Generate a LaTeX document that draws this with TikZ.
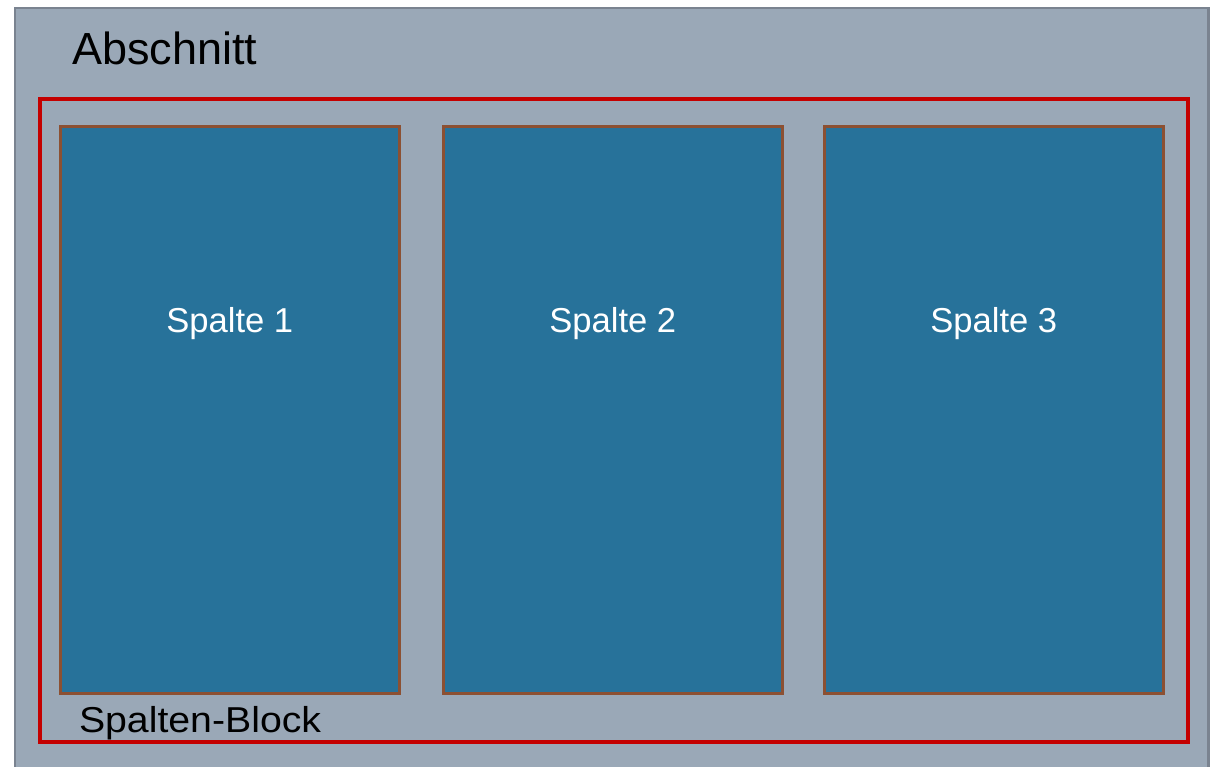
\documentclass[tikz,border=0pt]{standalone}
\usepackage{fontspec}
\setmainfont{Liberation Sans}
\definecolor{sectfill}{RGB}{154,168,183}
\definecolor{sectline}{RGB}{122,131,144}
\definecolor{blockred}{RGB}{196,0,0}
\definecolor{colfill}{RGB}{39,114,154}
\definecolor{colline}{RGB}{140,80,50}
\tikzset{
  box/.style={rectangle, inner sep=0pt, outer sep=0pt, anchor=north west},
  section/.style={box, fill=sectfill, draw=sectline, line width=2.5pt},
  colblock/.style={box, draw=blockred, line width=4.5pt},
  spalte/.style={box, fill=colfill, draw=colline, line width=3pt,
     minimum width=339.5pt, minimum height=566.5pt},
  lbl/.style={inner sep=0pt, outer sep=0pt, text=black},
}
\begin{document}
\begin{tikzpicture}[x=1pt,y=-1pt]
\clip (0,0) rectangle (1212,767);
\useasboundingbox (0,0) rectangle (1212,767);
\fill[white] (0,0) rectangle (1212,767);
\node[section, minimum width=1193.5pt, minimum height=800pt] (abschnitt) at (15,8) {};
\node[colblock, minimum width=1148pt, minimum height=643pt] (block) at (40,99) {};
\node[spalte] (s1) at (60,127) {};
\node[spalte] (s2) at (443,127) {};
\node[spalte] (s3) at (824,127) {};
\node[lbl, anchor=base west, font=\fontsize{45}{54}\selectfont] (tA) at (72,65) {Abschnitt};
\node[lbl, anchor=base west, font=\fontsize{36}{43}\selectfont] (tB) at (79,732) {\scalebox{1.09}[1]{Spalten-Block}};
\foreach \n/\t in {s1/Spalte 1, s2/Spalte 2, s3/Spalte 3}{
  \node[lbl, text=white, anchor=base, font=\fontsize{34.6}{41}\selectfont] at ([yshift=-205pt]\n.north) {\t};
}
\end{tikzpicture}
\end{document}
